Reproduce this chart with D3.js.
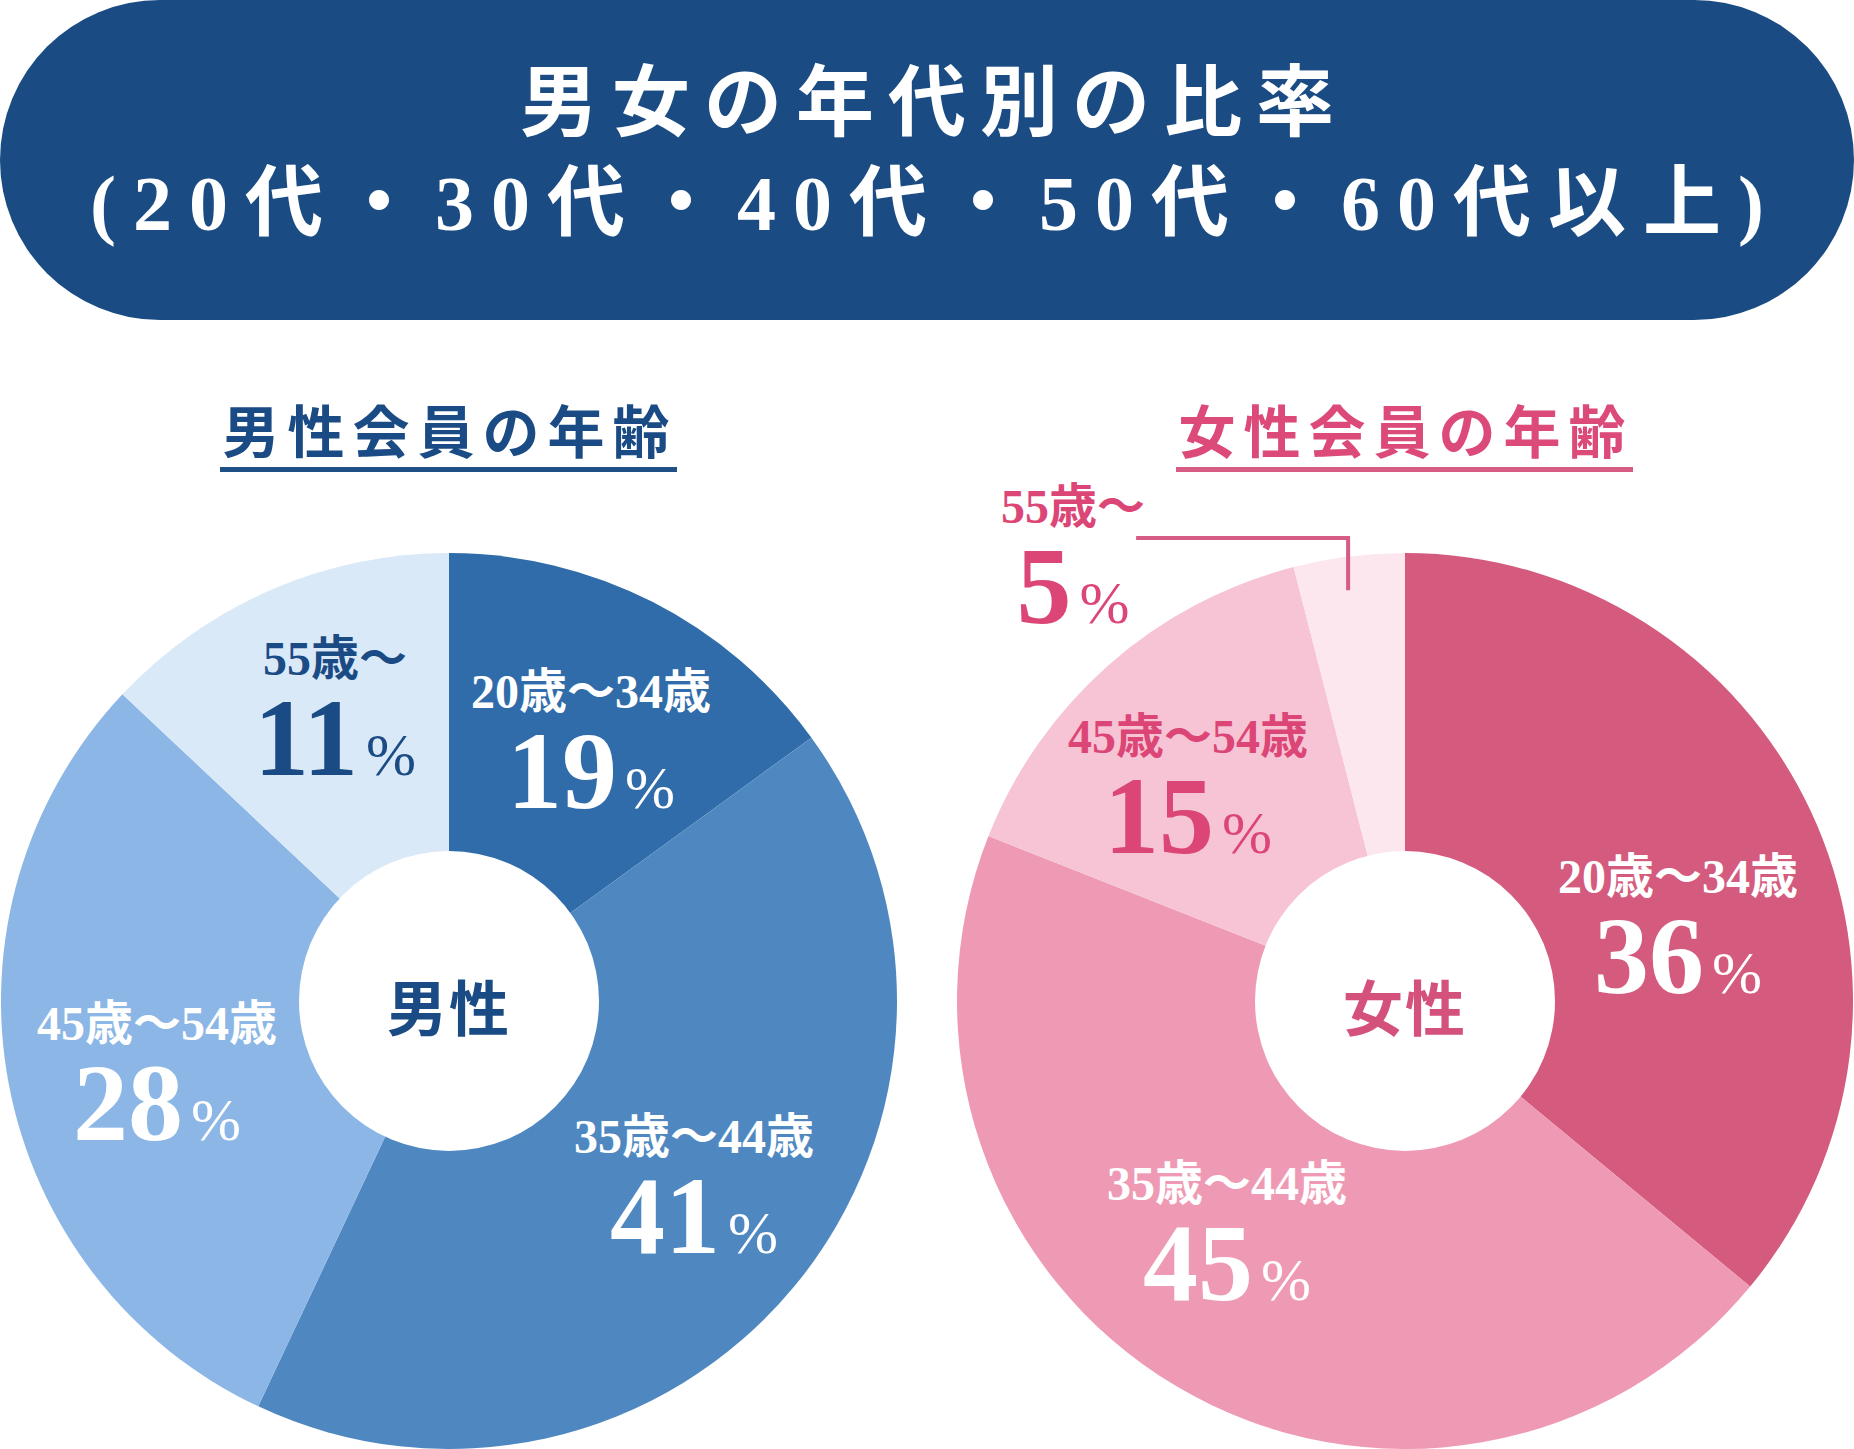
<!DOCTYPE html>
<html>
<head>
<meta charset="utf-8">
<script src="https://cdn.jsdelivr.net/npm/d3@7"></script>
<style>
  html, body { margin: 0; padding: 0; background: #ffffff; }
  svg { display: block; }
</style>
</head>
<body>
<svg id="chart" width="1854" height="1449"></svg>
<script>
// ---------------- DATA ----------------
const titleLines = ["男女の年代別の比率", "(20代・30代・40代・50代・60代以上)"];
const ageGroups = ["20歳〜34歳", "35歳〜44歳", "45歳〜54歳", "55歳〜"];
// slice sizes as drawn in the picture
const maleShares = [15, 42, 30, 13];
const femaleShares = [36, 45, 15, 4];
// percentages printed on the labels
const malePct = [19, 41, 28, 11];
const femalePct = [36, 45, 15, 5];
const chartTitles = ["男性会員の年齢", "女性会員の年齢"];
const centerLabels = ["男性", "女性"];

// ---------------- STYLE / LAYOUT ----------------
const W = 1854, H = 1449;
const NAVY = "#1b4b84";
const PINK = "#dc4676";
const serif = "'Liberation Serif','DejaVu Serif','Noto Sans CJK JP',serif";
const cjk = "'Noto Sans CJK JP','Noto Sans CJK SC',sans-serif";

const charts = [
  {
    cx: 449, cy: 1001, shares: maleShares, pct: malePct,
    colors: ["#306ca9", "#4f88c1", "#8bb6e5", "#dae9f8"],
    textColors: ["#ffffff", "#ffffff", "#ffffff", NAVY],
    labelOffsets: [[142, -293], [245, 152], [-292, 39], [-114, -326]],
    titleColor: NAVY, lineColor: "#1e4f86", centerColor: NAVY, leader: false
  },
  {
    cx: 1405, cy: 1001, shares: femaleShares, pct: femalePct,
    colors: ["#d45a7e", "#ef9ab4", "#f6c4d4", "#fde7ef"],
    textColors: ["#ffffff", "#ffffff", PINK, PINK],
    labelOffsets: [[273, -108], [-178, 199], [-217, -248], [-332, -478]],
    titleColor: "#dc4a79", lineColor: "#d65c83", centerColor: "#d4517c", leader: true
  }
];

const R = 448, r0 = 150;

const svg = d3.select("#chart");
svg.append("rect").attr("width", W).attr("height", H).attr("fill", "#ffffff");

// ---- Banner ----
svg.append("rect")
  .attr("x", 0).attr("y", 0).attr("width", W).attr("height", 320)
  .attr("rx", 160).attr("ry", 160)
  .attr("fill", "#1a4b83");

const titleLS = [14, 17];
svg.selectAll("text.title")
  .data(titleLines)
  .join("text")
  .attr("class", "title")
  .attr("x", (d, i) => W / 2 + titleLS[i] / 2)
  .attr("y", (d, i) => i === 0 ? 103 : 203)
  .attr("text-anchor", "middle")
  .attr("dominant-baseline", "central")
  .attr("font-family", serif)
  .attr("font-weight", 700)
  .attr("font-size", 78)
  .attr("letter-spacing", (d, i) => titleLS[i])
  .attr("fill", "#ffffff")
  .text(d => d);

// ---- Pies ----
const pie = d3.pie().sort(null).value(d => d);
const arc = d3.arc().innerRadius(0).outerRadius(R);

charts.forEach((c, ci) => {
  // subtitle
  const subLS = 8;
  svg.append("text")
    .attr("x", c.cx + subLS / 2 - 3)
    .attr("y", 428)
    .attr("text-anchor", "middle")
    .attr("dominant-baseline", "central")
    .attr("font-family", cjk)
    .attr("font-weight", 700)
    .attr("font-size", 57)
    .attr("letter-spacing", subLS)
    .attr("fill", c.titleColor)
    .text(chartTitles[ci]);
  svg.append("rect")
    .attr("x", c.cx - 229).attr("y", 467)
    .attr("width", 457).attr("height", 5)
    .attr("fill", c.lineColor);

  const g = svg.append("g").attr("transform", `translate(${c.cx},${c.cy})`);
  const arcs = pie(c.shares);

  g.selectAll("path.slice")
    .data(arcs)
    .join("path")
    .attr("class", "slice")
    .attr("d", arc)
    .attr("fill", (d, i) => c.colors[i]);

  // hole
  g.append("circle").attr("r", r0).attr("fill", "#ffffff");

  g.append("text")
    .attr("x", 0).attr("y", 3)
    .attr("text-anchor", "middle")
    .attr("dominant-baseline", "central")
    .attr("font-family", cjk)
    .attr("font-weight", 700)
    .attr("font-size", 60)
    .attr("letter-spacing", 2)
    .attr("fill", c.centerColor)
    .text(centerLabels[ci]);

  // labels
  arcs.forEach((a, i) => {
    const [dx, dy] = c.labelOffsets[i];
    const col = c.textColors[i];
    g.append("text")
      .attr("x", dx).attr("y", dy)
      .attr("text-anchor", "middle")
      .attr("font-family", serif)
      .attr("font-weight", 700)
      .attr("font-size", 48)
      .attr("fill", col)
      .text(ageGroups[i]);
    const t = g.append("text")
      .attr("x", dx).attr("y", dy + 100)
      .attr("text-anchor", "middle")
      .attr("font-family", serif)
      .attr("fill", col);
    t.append("tspan")
      .attr("font-size", 110)
      .attr("font-weight", 700)
      .text(c.pct[i]);
    t.append("tspan")
      .attr("font-size", 60)
      .attr("font-weight", 400)
      .attr("dx", 8)
      .text("%");
  });

  // leader line for the smallest slice
  if (c.leader) {
    const a = arcs[3];
    const mid = (a.startAngle + a.endAngle) / 2;
    const px = 414 * Math.sin(mid) - 5, py = -414 * Math.cos(mid);
    const yTop = -463;
    g.append("path")
      .attr("d", d3.line()([[px - 212, yTop], [px, yTop], [px, py]]))
      .attr("fill", "none")
      .attr("stroke", c.lineColor)
      .attr("stroke-width", 4);
  }
});
</script>
</body>
</html>
